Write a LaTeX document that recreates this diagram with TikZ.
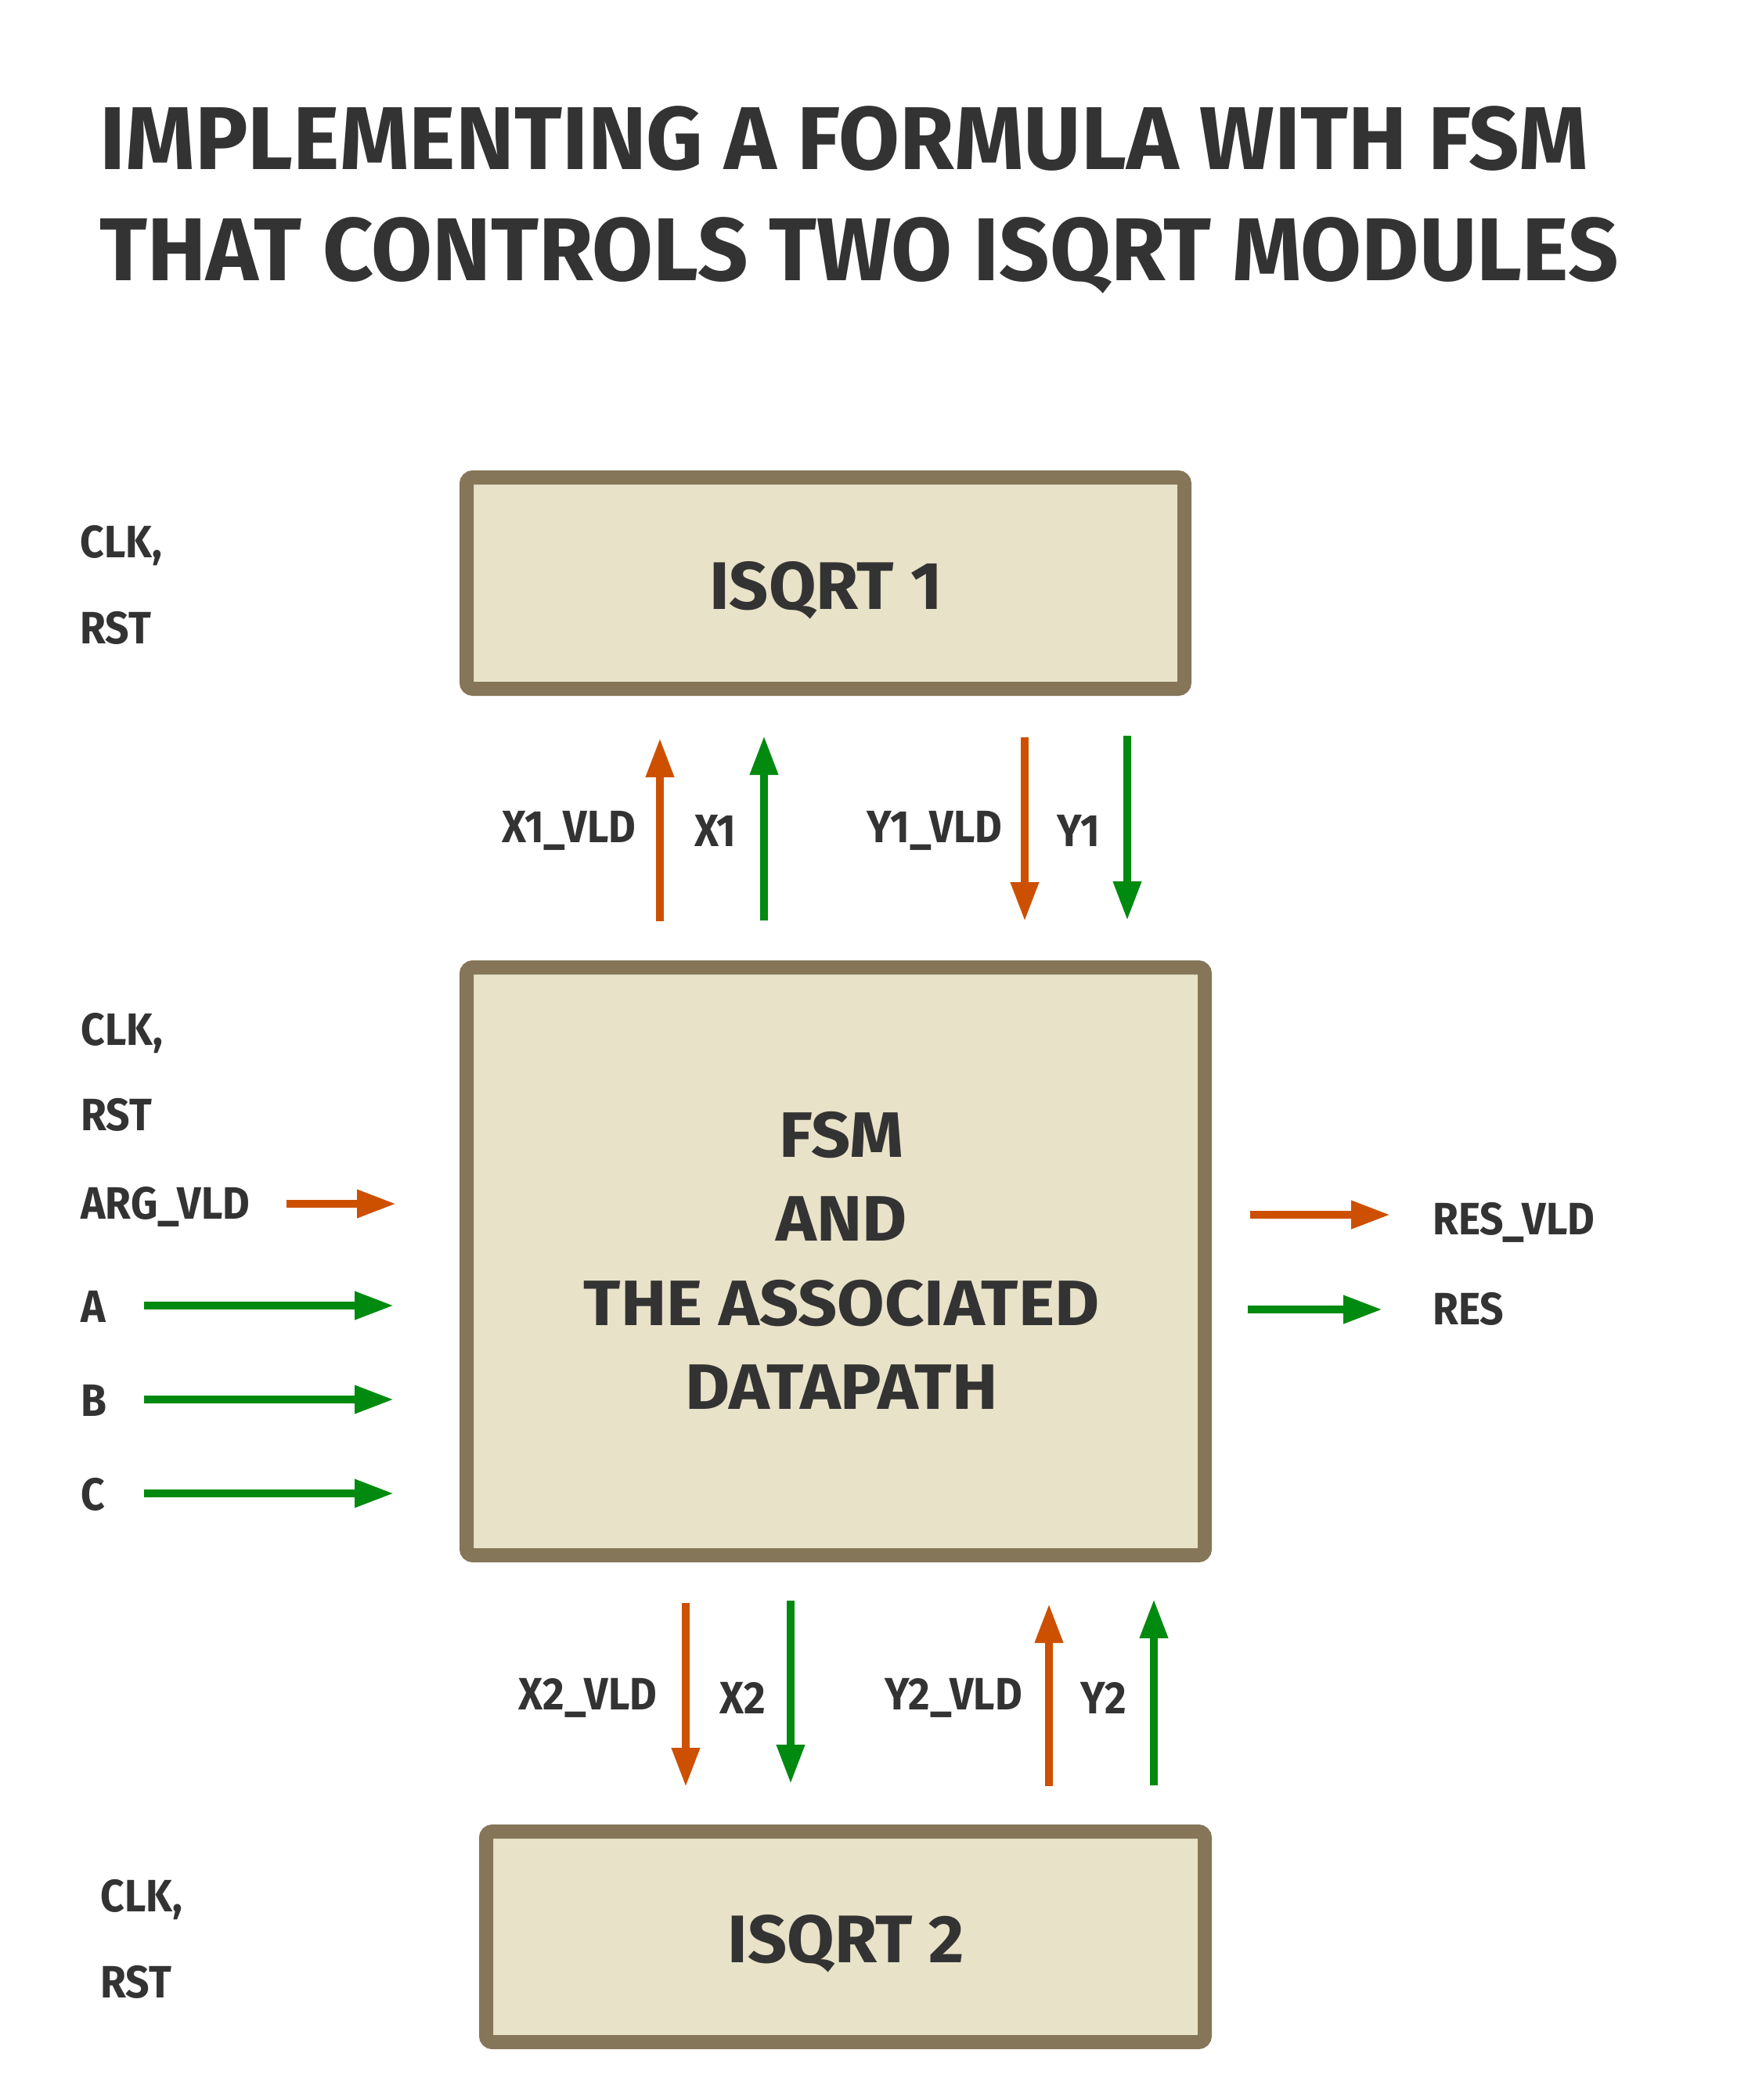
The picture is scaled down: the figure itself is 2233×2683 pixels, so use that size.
\documentclass[tikz,border=0pt]{standalone}
\usepackage{fontspec}
\setmainfont{Fira Sans}[FakeStretch=0.92]
\newfontfamily\titlefont{Fira Sans}[FakeStretch=0.99]
\newfontfamily\boxfont{Fira Sans}[FakeStretch=1.07]
\newfontfamily\isqfont{Fira Sans}[FakeStretch=1.02]
\usetikzlibrary{arrows.meta}
\definecolor{txt}{HTML}{333333}
\definecolor{sigorange}{HTML}{CC5000}
\definecolor{siggreen}{HTML}{008A10}
\definecolor{boxline}{HTML}{857659}
\definecolor{boxfill}{HTML}{E8E2C8}
\tikzset{
  modbox/.style={draw=boxline, fill=boxfill, line width=9pt, rounded corners=4pt},
  boxtext/.style={text=txt, font=\boxfont\fontsize{41}{49}\selectfont\bfseries, inner sep=0pt, align=center},
  isqtext/.style={text=txt, font=\isqfont\fontsize{43}{51}\selectfont\bfseries, inner sep=0pt, anchor=base},
  lbl/.style={text=txt, font=\fontsize{29}{35}\selectfont\bfseries, inner sep=0pt},
  ttl/.style={text=txt, font=\titlefont\fontsize{57}{68}\selectfont\bfseries, inner sep=0pt, anchor=base west},
  sigo/.style={draw=sigorange, line width=5pt, -{Triangle[length=25pt,width=17pt]}},
  sigg/.style={draw=siggreen, line width=5pt, -{Triangle[length=25pt,width=17pt]}},
}
\begin{document}
\begin{tikzpicture}[x=0.5pt,y=-0.5pt]
\useasboundingbox (0,0) rectangle (2233,2683);
% title
\node[ttl] (t1) at (127,216) {IMPLEMENTING A FORMULA WITH FSM};
\node[ttl] (t2) at (127,358) {THAT CONTROLS TWO ISQRT MODULES};
% boxes
\draw[modbox] (596,610) rectangle (1513,880);
\node[isqtext] (isq1) at (1055,778) {ISQRT 1};
\draw[modbox] (596,1236) rectangle (1539,1987);
\node[boxtext] (fsm1) at (1075,1450) {FSM};
\node[boxtext] (fsm2) at (1075,1557) {AND};
\node[boxtext] (fsm3) at (1075,1665) {THE ASSOCIATED};
\node[boxtext] (fsm4) at (1075,1772) {DATAPATH};
\draw[modbox] (621,2340) rectangle (1539,2609);
\node[isqtext] (isq2) at (1081,2507) {ISQRT 2};
% left labels
\node[lbl,anchor=west] (clk1) at (102,697) {CLK,};
\node[lbl,anchor=west] (rst1) at (102,802) {RST};
\node[lbl,anchor=west] (clk2) at (103,1320) {CLK,};
\node[lbl,anchor=west] (rst2) at (103,1424) {RST};
\node[lbl,anchor=west] (argvld) at (103,1542) {ARG\_VLD};
\node[lbl,anchor=west] (la) at (103,1669) {A};
\node[lbl,anchor=west] (lb) at (103,1789) {B};
\node[lbl,anchor=west] (lc) at (103,1909) {C};
\node[lbl,anchor=west] (clk3) at (128,2427) {CLK,};
\node[lbl,anchor=west] (rst3) at (128,2532) {RST};
\node[lbl,anchor=west] (resvld) at (1830,1562) {RES\_VLD};
\node[lbl,anchor=west] (res) at (1830,1672) {RES};
% top labels
\node[lbl] (x1vld) at (727,1061) {X1\_VLD};
\node[lbl] (x1) at (914,1061) {X1};
\node[lbl] (y1vld) at (1194,1061) {Y1\_VLD};
\node[lbl] (y1) at (1378,1061) {Y1};
% bottom labels
\node[lbl] (x2vld) at (751,2169) {X2\_VLD};
\node[lbl] (x2) at (949,2169) {X2};
\node[lbl] (y2vld) at (1218,2169) {Y2\_VLD};
\node[lbl] (y2) at (1410,2169) {Y2};
% coordinates
\coordinate (a1s) at (843,1177); \coordinate (a1e) at (843,943);
\coordinate (a2s) at (976,1176); \coordinate (a2e) at (976,940);
\coordinate (a3s) at (1309,942); \coordinate (a3e) at (1309,1177);
\coordinate (a4s) at (1440,940); \coordinate (a4e) at (1440,1176);
\coordinate (b1s) at (876,2048); \coordinate (b1e) at (876,2283);
\coordinate (b2s) at (1010,2045); \coordinate (b2e) at (1010,2279);
\coordinate (b3s) at (1340,2282); \coordinate (b3e) at (1340,2049);
\coordinate (b4s) at (1474,2281); \coordinate (b4e) at (1474,2043);
\coordinate (c1s) at (366,1538); \coordinate (c1e) at (506,1538);
\coordinate (c2s) at (184,1668); \coordinate (c2e) at (503,1668);
\coordinate (c3s) at (184,1788); \coordinate (c3e) at (503,1788);
\coordinate (c4s) at (184,1908); \coordinate (c4e) at (503,1908);
\coordinate (d1s) at (1597,1552); \coordinate (d1e) at (1776,1552);
\coordinate (d2s) at (1594,1673); \coordinate (d2e) at (1766,1673);
% arrows
\draw[sigo] (a1s) -- (a1e);
\draw[sigg] (a2s) -- (a2e);
\draw[sigo] (a3s) -- (a3e);
\draw[sigg] (a4s) -- (a4e);
\draw[sigo] (b1s) -- (b1e);
\draw[sigg] (b2s) -- (b2e);
\draw[sigo] (b3s) -- (b3e);
\draw[sigg] (b4s) -- (b4e);
\draw[sigo] (c1s) -- (c1e);
\draw[sigg] (c2s) -- (c2e);
\draw[sigg] (c3s) -- (c3e);
\draw[sigg] (c4s) -- (c4e);
\draw[sigo] (d1s) -- (d1e);
\draw[sigg] (d2s) -- (d2e);
\end{tikzpicture}
\end{document}
